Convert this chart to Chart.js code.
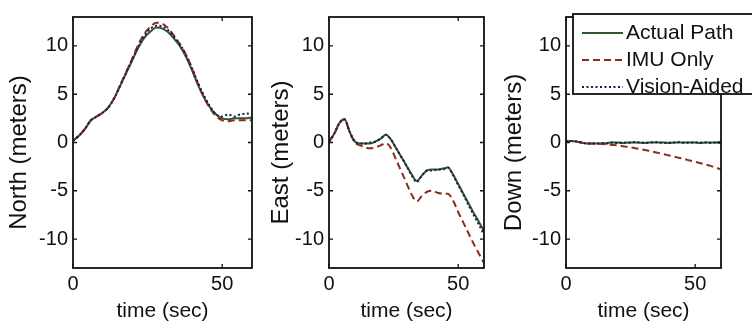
<!DOCTYPE html>
<html>
<head>
<meta charset="utf-8">
<script src="https://cdn.jsdelivr.net/npm/chart.js@4/dist/chart.umd.min.js"></script>
<style>
  html, body { margin: 0; padding: 0; background: #fff; }
  body { width: 752px; height: 327px; position: relative; overflow: hidden; }
  canvas { position: absolute; top: 0; }
</style>
</head>
<body>
<canvas id="north" width="259" height="327" style="left:4px"></canvas>
<canvas id="east" width="232" height="327" style="left:263px"></canvas>
<canvas id="down" width="257" height="327" style="left:495px"></canvas>
<script>
const time = [0,2,4,6,8,10,12,14,16,18,20,22,24,26,28,30,32,34,36,38,40,42,44,46,48,50,52,54,56,58,60];
const seriesLabels = ['Actual Path', 'IMU Only', 'Vision-Aided'];
const xTicks = [0, 50];
const yTicks = [-10, -5, 0, 5, 10];

const northActual = [0.2,0.7,1.4,2.3,2.7,3.1,3.7,4.7,6.0,7.3,8.6,9.9,10.9,11.5,11.9,11.8,11.4,10.7,9.9,8.8,7.4,5.9,4.6,3.6,2.9,2.5,2.4,2.5,2.5,2.5,2.6];
const northImu = [0.2,0.7,1.4,2.3,2.7,3.1,3.7,4.7,6.1,7.4,8.8,10.2,11.3,12.0,12.4,12.3,11.8,11.0,10.1,9.0,7.6,6.0,4.6,3.5,2.7,2.3,2.2,2.3,2.3,2.3,2.3];
const northVision = [0.2,0.7,1.4,2.3,2.7,3.1,3.7,4.7,6.0,7.4,8.7,10.0,11.1,11.8,12.1,12.0,11.6,10.9,10.1,9.0,7.6,6.1,4.8,3.7,2.9,2.7,2.9,2.7,2.9,3.0,2.9];

const eastActual = [0.1,0.9,2.0,2.4,1.1,0.1,-0.1,-0.1,-0.1,0.1,0.4,0.8,0.3,-0.6,-1.5,-2.4,-3.3,-4.0,-3.4,-2.9,-2.8,-2.8,-2.7,-2.6,-3.3,-4.3,-5.3,-6.3,-7.3,-8.2,-9.2];
const eastImu = [0.1,0.9,2.0,2.4,1.1,0.0,-0.3,-0.5,-0.6,-0.5,-0.3,-0.05,-0.6,-1.8,-3.0,-4.2,-5.4,-6.1,-5.5,-5.1,-5.0,-5.2,-5.3,-5.3,-6.0,-7.2,-8.3,-9.4,-10.5,-11.5,-12.5];
const eastVision = [0.1,0.9,2.0,2.4,1.1,0.1,-0.1,-0.1,0.0,0.1,0.4,0.8,0.3,-0.6,-1.5,-2.4,-3.4,-4.1,-3.4,-2.9,-2.9,-2.8,-2.8,-2.6,-3.4,-4.4,-5.4,-6.5,-7.5,-8.5,-9.6];

const downActual = [0.1,0.15,0.1,0,-0.1,-0.1,-0.1,-0.1,-0.05,0,0,-0.05,0,0,0,-0.05,0,0,0,0,-0.05,0,0,0,0,0,-0.05,0,0,0,0];
const downImu = [0.1,0.15,0.1,0,-0.1,-0.1,-0.12,-0.15,-0.2,-0.25,-0.3,-0.38,-0.46,-0.55,-0.65,-0.75,-0.86,-0.98,-1.1,-1.22,-1.35,-1.48,-1.6,-1.73,-1.87,-2.0,-2.14,-2.28,-2.42,-2.6,-2.8];
const downVision = [0.1,0.15,0.1,0,-0.1,-0.1,-0.1,-0.05,-0.1,0,-0.05,0,-0.05,0.05,0,0,-0.05,0.05,0,-0.05,0,0,0.05,-0.05,0,0,0,0,-0.05,0,0];

const colors = ['#2f5a2f', '#8b2c22', '#1c1c4e'];
const dashes = [[], [7, 4], [2, 2.5]];
const FONT = 'Liberation Sans, Arial, sans-serif';

// matlab style box with inward ticks, plus the rotated y label
const boxPlugin = {
  id: 'box',
  afterDraw(chart, args, opts) {
    const {ctx, chartArea: a, scales: {x, y}} = chart;
    ctx.save();
    ctx.strokeStyle = '#111';
    ctx.lineWidth = 1.8;
    ctx.strokeRect(a.left, a.top, a.right - a.left, a.bottom - a.top);
    ctx.lineWidth = 1.3;
    ctx.beginPath();
    y.ticks.forEach(t => {
      const py = y.getPixelForValue(t.value);
      ctx.moveTo(a.left, py); ctx.lineTo(a.left + 4, py);
      ctx.moveTo(a.right, py); ctx.lineTo(a.right - 4, py);
    });
    x.ticks.forEach(t => {
      const px = x.getPixelForValue(t.value);
      ctx.moveTo(px, a.bottom); ctx.lineTo(px, a.bottom - 4);
      ctx.moveTo(px, a.top); ctx.lineTo(px, a.top + 4);
    });
    ctx.stroke();
    // y title, sits a bit below the axis middle like the original
    ctx.translate(opts.titleX, (a.top + a.bottom) / 2 + 10);
    ctx.rotate(-Math.PI / 2);
    ctx.font = '24px ' + FONT;
    ctx.fillStyle = '#111';
    ctx.textAlign = 'center';
    ctx.textBaseline = 'middle';
    ctx.fillText(opts.title, 0, 0);
    ctx.restore();
  }
};

const legendPlugin = {
  id: 'boxLegend',
  afterDraw(chart) {
    const ctx = chart.ctx;
    const left = 78, top = 14, h = 80;
    ctx.save();
    ctx.fillStyle = '#fff';
    ctx.fillRect(left, top, 200, h);
    ctx.strokeStyle = '#111';
    ctx.lineWidth = 1.8;
    ctx.strokeRect(left, top, 200, h);
    ctx.font = '21px ' + FONT;
    ctx.textBaseline = 'middle';
    chart.data.datasets.forEach((ds, i) => {
      const cy = top + 19 + i * 27;
      ctx.strokeStyle = ds.borderColor;
      ctx.lineWidth = 2;
      ctx.setLineDash(ds.borderDash);
      ctx.beginPath();
      ctx.moveTo(left + 9, cy); ctx.lineTo(left + 50, cy);
      ctx.stroke();
      ctx.setLineDash([]);
      ctx.fillStyle = '#111';
      ctx.fillText(ds.label, left + 53, cy);
    });
    ctx.restore();
  }
};

function makeChart(id, title, series, yWidth, padRight, titleX, withLegend) {
  return new Chart(document.getElementById(id), {
    type: 'line',
    data: {
      labels: time,
      datasets: series.map((s, i) => ({
        label: seriesLabels[i],
        data: s,
        borderColor: colors[i],
        borderDash: dashes[i],
        borderWidth: 2,
        pointRadius: 0,
        cubicInterpolationMode: 'monotone',
        fill: false,
        order: 2 - i
      }))
    },
    options: {
      responsive: false,
      animation: false,
      layout: { padding: { top: 11, right: padRight, left: 0, bottom: 0 } },
      plugins: {
        legend: { display: false },
        tooltip: { enabled: false },
        box: { title: title, titleX: titleX }
      },
      scales: {
        x: {
          type: 'linear', min: 0, max: 60,
          afterBuildTicks: s => { s.ticks = xTicks.map(v => ({ value: v })); },
          afterFit: s => { s.height = 59; },
          grid: { display: false, drawTicks: false },
          border: { display: false },
          ticks: { color: '#111', font: { family: FONT, size: 20 }, padding: 4, maxRotation: 0 },
          title: { display: true, text: 'time (sec)', color: '#111', font: { family: FONT, size: 21 }, padding: { top: 0, bottom: 3 } }
        },
        y: {
          min: -13, max: 13,
          afterBuildTicks: s => { s.ticks = yTicks.map(v => ({ value: v })); },
          afterFit: s => { s.width = yWidth; },
          grid: { display: false, drawTicks: false },
          border: { display: false },
          ticks: { color: '#111', font: { family: FONT, size: 20 }, padding: 5 },
          title: { display: false }
        }
      }
    },
    plugins: withLegend ? [boxPlugin, legendPlugin] : [boxPlugin]
  });
}

makeChart('north', 'North (meters)', [northActual, northImu, northVision], 69, 11, 15, false);
makeChart('east', 'East (meters)', [eastActual, eastImu, eastVision], 66, 11, 18, false);
makeChart('down', 'Down (meters)', [downActual, downImu, downVision], 71, 31, 19, true);
</script>
</body>
</html>
